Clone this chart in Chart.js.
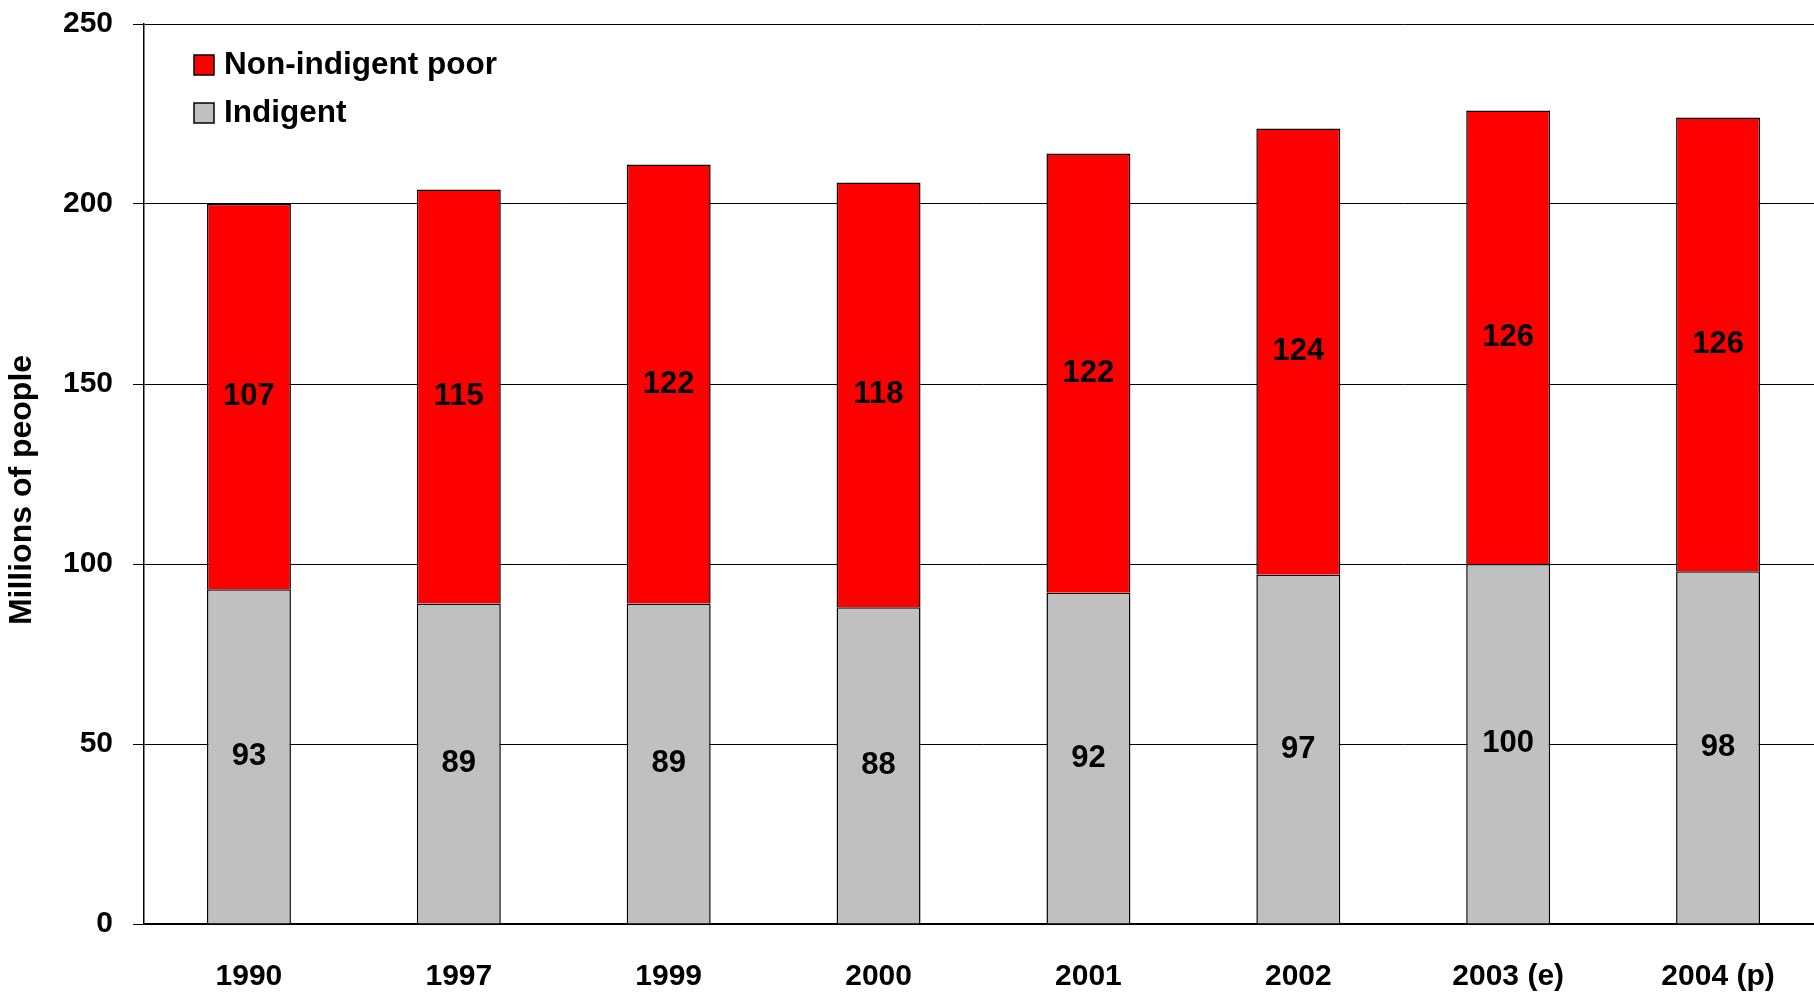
<!DOCTYPE html>
<html>
<head>
<meta charset="utf-8">
<script src="https://cdn.jsdelivr.net/npm/chart.js@4"></script>
<style>
  html, body { margin: 0; padding: 0; background: #fff; overflow: hidden; }
  canvas { display: block; }
</style>
</head>
<body>
<!-- plot runs a little past the right edge of the window, like the original -->
<canvas id="povertyChart" width="1823" height="994"></canvas>
<script>
const years = ['1990', '1997', '1999', '2000', '2001', '2002', '2003 (e)', '2004 (p)'];
const indigent = [93, 89, 89, 88, 92, 97, 100, 98];
const nonIndigentPoor = [107, 115, 122, 118, 122, 124, 126, 126];
const yTicks = [0, 50, 100, 150, 200, 250];
const yTitle = 'Millions of people';

const FONT = '"Liberation Sans", Arial, sans-serif';

// numbers in the middle of every stacked segment
const segmentLabels = {
  id: 'segmentLabels',
  afterDatasetsDraw(chart) {
    const ctx = chart.ctx;
    ctx.save();
    ctx.font = `bold 31px ${FONT}`;
    ctx.fillStyle = '#000';
    ctx.textAlign = 'center';
    ctx.textBaseline = 'middle';
    chart.data.datasets.forEach((ds, i) => {
      chart.getDatasetMeta(i).data.forEach((bar, j) => {
        const c = bar.getCenterPoint();
        ctx.fillText(ds.data[j], c.x, c.y);
      });
    });
    ctx.restore();
  }
};

// legend inside the plot (top-left) + y title sitting a bit below centre
const boxLegend = {
  id: 'boxLegend',
  afterDraw(chart) {
    const ctx = chart.ctx;
    const { left, top, bottom } = chart.chartArea;
    const items = chart.data.datasets.slice().reverse();
    ctx.save();
    ctx.font = `bold 31.5px ${FONT}`;
    ctx.textBaseline = 'middle';
    items.forEach((ds, i) => {
      const x = left + 50;
      const cy = top + 41 + i * 48;
      ctx.fillStyle = ds.backgroundColor;
      ctx.fillRect(x, cy - 10, 20, 20);
      ctx.lineWidth = 1.5;
      ctx.strokeStyle = '#000';
      ctx.strokeRect(x, cy - 10, 20, 20);
      ctx.fillStyle = '#000';
      ctx.fillText(ds.label, x + 30, cy);
    });

    ctx.translate(22, (top + bottom) / 2 + 16);
    ctx.rotate(-Math.PI / 2);
    ctx.font = `bold 32px ${FONT}`;
    ctx.textAlign = 'center';
    ctx.fillText(yTitle, 0, 0);
    ctx.restore();
  }
};

new Chart(document.getElementById('povertyChart'), {
  type: 'bar',
  data: {
    labels: years,
    datasets: [
      {
        label: 'Indigent',
        data: indigent,
        backgroundColor: '#c0c0c0',
        borderColor: '#000',
        borderWidth: 1.5
      },
      {
        label: 'Non-indigent poor',
        data: nonIndigentPoor,
        backgroundColor: '#ff0000',
        borderColor: '#000',
        borderWidth: 1.5
      }
    ]
  },
  options: {
    responsive: false,
    animation: false,
    layout: { padding: { top: 24, right: 0, left: 0, bottom: 0 } },
    datasets: {
      bar: { barPercentage: 0.4, categoryPercentage: 1 }
    },
    scales: {
      x: {
        stacked: true,
        grid: { display: false, drawTicks: false },
        border: { display: true, color: '#000', width: 2 },
        ticks: {
          color: '#000',
          padding: 35,
          maxRotation: 0,
          font: { family: FONT, size: 30, weight: 'bold' }
        },
        afterFit: scale => { scale.height = 70; }
      },
      y: {
        stacked: true,
        min: 0,
        max: 250,
        afterBuildTicks: scale => { scale.ticks = yTicks.map(v => ({ value: v })); },
        grid: { color: '#000', lineWidth: 1, tickLength: 11 },
        border: { display: true, color: '#000', width: 1.5 },
        ticks: {
          color: '#000',
          padding: 20,
          font: { family: FONT, size: 30, weight: 'bold' }
        },
        afterFit: scale => {
          scale.width = 144;
          // tick padding would otherwise push the plot top down
          scale.paddingTop = 0;
          scale.paddingBottom = 0;
        }
      }
    },
    plugins: {
      legend: { display: false },
      tooltip: { enabled: false }
    }
  },
  plugins: [segmentLabels, boxLegend]
});
</script>
</body>
</html>
